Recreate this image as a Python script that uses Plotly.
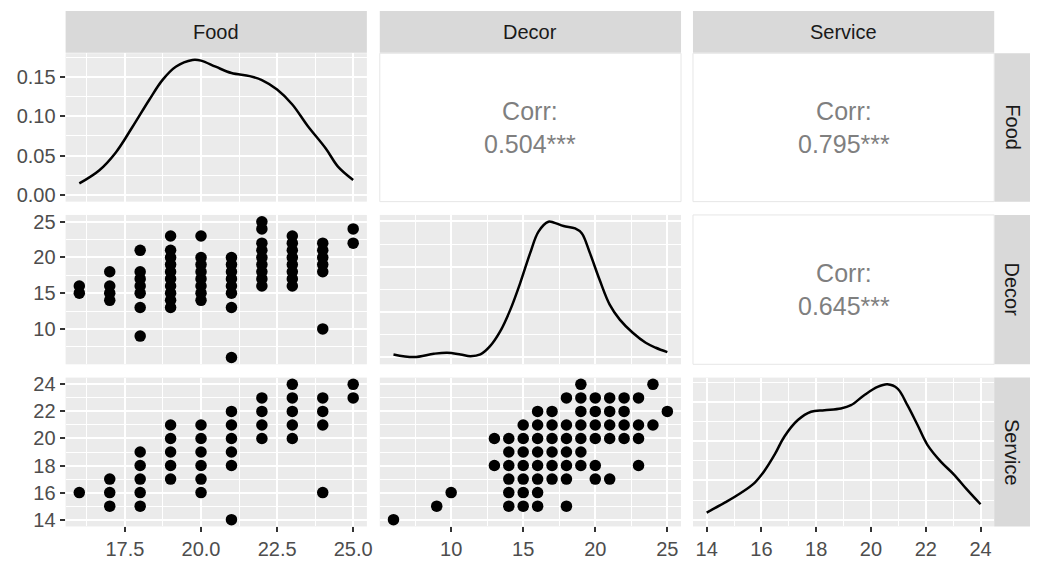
import plotly.graph_objects as go

W, H = 1039, 561

variables = ["Food", "Decor", "Service"]

# Pairwise points (x variable first, y variable second)
fd_food = [16, 16,
           17, 17, 17, 17,
           18, 18, 18, 18, 18, 18, 18,
           19, 19, 19, 19, 19, 19, 19, 19, 19, 19,
           20, 20, 20, 20, 20, 20, 20, 20,
           21, 21, 21, 21, 21, 21, 21, 21,
           22, 22, 22, 22, 22, 22, 22, 22, 22,
           23, 23, 23, 23, 23, 23, 23, 23,
           24, 24, 24, 24, 24, 24,
           25, 25]
fd_decor = [15, 16,
            14, 15, 16, 18,
            9, 13, 15, 16, 17, 18, 21,
            13, 14, 15, 16, 17, 18, 19, 20, 21, 23,
            14, 15, 16, 17, 18, 19, 20, 23,
            6, 13, 15, 16, 17, 18, 19, 20,
            16, 17, 18, 19, 20, 21, 22, 24, 25,
            16, 17, 18, 19, 20, 21, 22, 23,
            10, 18, 19, 20, 21, 22,
            22, 24]

fs_food = [16,
           17, 17, 17,
           18, 18, 18, 18, 18,
           19, 19, 19, 19, 19,
           20, 20, 20, 20, 20, 20,
           21, 21, 21, 21, 21, 21,
           22, 22, 22, 22,
           23, 23, 23, 23, 23,
           24, 24, 24, 24,
           25, 25]
fs_service = [16,
              15, 16, 17,
              15, 16, 17, 18, 19,
              17, 18, 19, 20, 21,
              16, 17, 18, 19, 20, 21,
              14, 18, 19, 20, 21, 22,
              20, 21, 22, 23,
              20, 21, 22, 23, 24,
              16, 21, 22, 23,
              23, 24]

ds_decor = [6, 9, 10,
            14, 14, 14, 14, 14, 14,
            15, 15, 15, 15, 15, 15, 15,
            16, 16, 16, 16, 16, 16, 16, 16,
            17, 17, 17, 17, 17, 17,
            18, 18, 18, 18, 18, 18, 18,
            13, 13,
            19, 19, 19, 19, 19, 19, 19,
            20, 20, 20, 20, 20, 20,
            21, 21, 21, 21, 21,
            22, 22, 22, 22,
            23, 23, 23, 23,
            24, 24, 25]
ds_service = [14, 15, 16,
              15, 16, 17, 18, 19, 20,
              15, 16, 17, 18, 19, 20, 21,
              15, 16, 17, 18, 19, 20, 21, 22,
              17, 18, 19, 20, 21, 22,
              15, 17, 18, 19, 20, 21, 23,
              18, 20,
              18, 19, 20, 21, 22, 23, 24,
              17, 18, 20, 21, 22, 23,
              17, 20, 21, 22, 23,
              20, 21, 22, 23,
              18, 20, 21, 23,
              21, 24, 22]

# Kernel density curves on the diagonal
food_dens_x = [16.0, 16.65, 17.2, 17.74, 18.3, 18.73, 19.17, 19.72, 20.0, 20.48,
               21.0, 21.6, 22.0, 22.5, 23.0, 23.5, 24.1, 24.5, 25.0]
food_dens_y = [0.0146, 0.031, 0.054, 0.086, 0.121, 0.146, 0.163, 0.1715, 0.1707, 0.163,
               0.155, 0.151, 0.146, 0.134, 0.115, 0.088, 0.059, 0.036, 0.019]

decor_dens_x = [6.0, 7.42, 8.8, 9.72, 10.65, 11.34, 12.03, 12.7, 13.4, 14.1, 14.8,
                15.48, 16.06, 16.75, 17.1, 17.8, 18.6, 19.06, 19.63, 20.3, 21.0,
                21.7, 22.6, 23.5, 24.2, 25.0]
decor_dens_y = [0.0027, 0.0004, 0.0033, 0.0042, 0.0027, 0.0012, 0.0027, 0.010, 0.023,
                0.042, 0.066, 0.092, 0.111, 0.1197, 0.1191, 0.1159, 0.1138, 0.1095,
                0.092, 0.0685, 0.0466, 0.0334, 0.0218, 0.013, 0.0086, 0.0047]

service_dens_x = [14.0, 14.66, 15.26, 15.75, 16.1, 16.48, 16.84, 17.33, 17.81, 18.3,
                  18.9, 19.27, 19.75, 20.24, 20.6, 20.97, 21.33, 21.7, 22.06, 22.54,
                  23.03, 23.5, 24.0]
service_dens_y = [0.0091, 0.0217, 0.0343, 0.0469, 0.0616, 0.0826, 0.1058, 0.1267,
                  0.1373, 0.1393, 0.1415, 0.1456, 0.1583, 0.1688, 0.1721, 0.1667,
                  0.1456, 0.1204, 0.0952, 0.0742, 0.0574, 0.0385, 0.0196]

# Correlation labels for the upper triangle
corr_food_decor = "0.504***"
corr_food_service = "0.795***"
corr_decor_service = "0.645***"

# Tick positions / labels
food_ticks = [17.5, 20.0, 22.5, 25.0]
food_ticktext = ["17.5", "20.0", "22.5", "25.0"]
decor_ticks = [10, 15, 20, 25]
service_ticks = [14, 16, 18, 20, 22, 24]
food_dens_ticks = [0.00, 0.05, 0.10, 0.15]
food_dens_ticktext = ["0.00", "0.05", "0.10", "0.15"]
decor_dens_ticks = [0.00, 0.04, 0.08, 0.12]
service_dens_ticks = [0.00, 0.05, 0.10, 0.15]

# ---- panel geometry (pixels) ----
col_px = [(66, 369), (382, 685), (697, 1000)]
row_px = [(50, 200.5), (214, 365.5), (379, 530)]
top_strip = (7, 49.5)
right_strip = (1000, 1036)

FONT = "Liberation Sans"
TICK_FONT = dict(family=FONT, size=20, color="#4D4D4D")


def fx(p):
    return p / W


def fy(p):
    return 1 - p / H


def padded(lo, hi, frac=0.05):
    d = (hi - lo) * frac
    return [lo - d, hi + d]


var_range = {
    "Food": padded(min(fd_food), max(fd_food)),
    "Decor": padded(min(fd_decor + ds_decor), max(fd_decor + ds_decor)),
    "Service": padded(min(fs_service + ds_service), max(fs_service + ds_service)),
}
var_major = {"Food": (food_ticks, food_ticktext),
             "Decor": (decor_ticks, [str(v) for v in decor_ticks]),
             "Service": (service_ticks, [str(v) for v in service_ticks])}
var_minor = {"Food": (16.25, 2.5), "Decor": (7.5, 5), "Service": (15, 2)}

dens = {
    "Food": (food_dens_x, food_dens_y, food_dens_ticks, food_dens_ticktext, 0.025, 0.05),
    "Decor": (decor_dens_x, decor_dens_y, decor_dens_ticks,
              ["%.2f" % v for v in decor_dens_ticks], 0.02, 0.04),
    "Service": (service_dens_x, service_dens_y, service_dens_ticks,
                ["%.2f" % v for v in service_dens_ticks], 0.025, 0.05),
}

pairs = {
    (1, 0): (fd_food, fd_decor),
    (2, 0): (fs_food, fs_service),
    (2, 1): (ds_decor, ds_service),
}
corr_text = {
    (0, 1): corr_food_decor,
    (0, 2): corr_food_service,
    (1, 2): corr_decor_service,
}

fig = go.Figure()
layout = {}
shapes = []
annotations = []


def axis(domain, rng, tickvals, ticktext, minor0, minordt, show, anchor):
    return dict(
        domain=domain, range=rng, anchor=anchor,
        tickmode="array", tickvals=tickvals, ticktext=ticktext,
        showticklabels=show, ticks="outside" if show else "",
        ticklen=5, tickwidth=1.5, tickcolor="#333333",
        tickfont=TICK_FONT,
        showgrid=True, gridcolor="#FFFFFF", gridwidth=2,
        minor=dict(tick0=minor0, dtick=minordt, showgrid=True,
                   gridcolor="#FFFFFF", gridwidth=1, ticks=""),
        zeroline=False, showline=False, fixedrange=True,
    )


k = 0
for r in range(3):
    for c in range(3):
        x0, x1 = col_px[c]
        y0, y1 = row_px[r]
        if r < c:
            # upper triangle: correlation text on white
            shapes.append(dict(type="rect", xref="paper", yref="paper",
                               x0=fx(x0), x1=fx(x1), y0=fy(y1), y1=fy(y0),
                               fillcolor="white", line=dict(color="#E6E6E6", width=1)))
            annotations.append(dict(
                xref="paper", yref="paper", x=fx((x0 + x1) / 2), y=fy((y0 + y1) / 2),
                text="Corr:<br>" + corr_text[(r, c)], showarrow=False,
                font=dict(family=FONT, size=25, color="#7F7F7F"),
                xanchor="center", yanchor="middle", align="center"))
            continue
        k += 1
        xa = "x" if k == 1 else "x%d" % k
        ya = "y" if k == 1 else "y%d" % k
        xv = variables[c]
        yv = variables[r]
        xt, xtt = var_major[xv]
        xm0, xmd = var_minor[xv]
        xaxis = axis([fx(x0), fx(x1)], var_range[xv], xt, xtt, xm0, xmd, r == 2, ya)
        if r == c:
            dx, dy, dt, dtt, dm0, dmd = dens[xv]
            ymax = max(dy)
            yrng = [-0.05 * ymax, 1.05 * ymax]
            yaxis = axis([fy(y1), fy(y0)], yrng, dt, dtt, dm0, dmd, c == 0, xa)
            fig.add_trace(go.Scatter(x=dx, y=dy, mode="lines", line_shape="spline",
                                     line=dict(color="black", width=2.5),
                                     xaxis=xa, yaxis=ya, showlegend=False,
                                     hoverinfo="skip"))
        else:
            yt, ytt = var_major[yv]
            ym0, ymd = var_minor[yv]
            yaxis = axis([fy(y1), fy(y0)], var_range[yv], yt, ytt, ym0, ymd, c == 0, xa)
            px, py = pairs[(r, c)]
            fig.add_trace(go.Scatter(x=px, y=py, mode="markers",
                                     marker=dict(color="black", size=11.5),
                                     xaxis=xa, yaxis=ya, showlegend=False,
                                     hoverinfo="skip"))
        layout["xaxis" if k == 1 else "xaxis%d" % k] = xaxis
        layout["yaxis" if k == 1 else "yaxis%d" % k] = yaxis

# strips
for c, name in enumerate(variables):
    x0, x1 = col_px[c]
    shapes.append(dict(type="rect", xref="paper", yref="paper",
                       x0=fx(x0), x1=fx(x1), y0=fy(top_strip[1]), y1=fy(top_strip[0]),
                       fillcolor="#D9D9D9", line=dict(width=0), layer="below"))
    annotations.append(dict(xref="paper", yref="paper", x=fx((x0 + x1) / 2),
                            y=fy(sum(top_strip) / 2), text=name, showarrow=False,
                            font=dict(family=FONT, size=20, color="#1A1A1A"),
                            xanchor="center", yanchor="middle"))
for r, name in enumerate(variables):
    y0, y1 = row_px[r]
    shapes.append(dict(type="rect", xref="paper", yref="paper",
                       x0=fx(right_strip[0]), x1=fx(right_strip[1]), y0=fy(y1), y1=fy(y0),
                       fillcolor="#D9D9D9", line=dict(width=0), layer="below"))
    annotations.append(dict(xref="paper", yref="paper", x=fx(sum(right_strip) / 2),
                            y=fy((y0 + y1) / 2), text=name, showarrow=False, textangle=90,
                            font=dict(family=FONT, size=20, color="#1A1A1A"),
                            xanchor="center", yanchor="middle"))

fig.update_layout(
    width=W, height=H, autosize=False,
    margin=dict(l=0, r=0, t=0, b=0),
    paper_bgcolor="white", plot_bgcolor="#EBEBEB",
    shapes=shapes, annotations=annotations,
    font=dict(family=FONT),
    **layout,
)

fig.write_html("out.html")
